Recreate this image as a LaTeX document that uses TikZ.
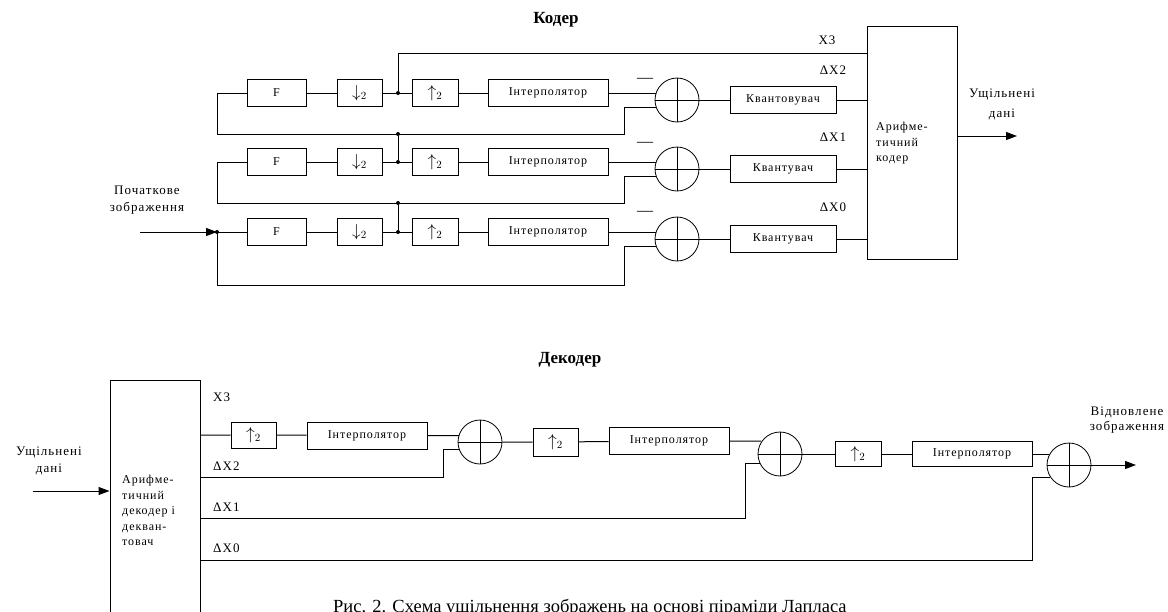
\documentclass[tikz,border=0pt]{standalone}
\usepackage{fontspec}
\setmainfont{Liberation Serif}
\newfontfamily\boxfont[LetterSpace=8]{Liberation Serif}
\usetikzlibrary{arrows.meta}

\begin{document}
\begin{tikzpicture}[x=1pt,y=-1pt,
  blk/.style={draw,line width=1pt,inner sep=0pt,minimum height=27pt,font=\boxfont\fontsize{12}{14}\selectfont},
  summer/.style={draw,circle,line width=0.8pt,minimum size=44pt,inner sep=0pt,
    path picture={\draw[line width=1pt] (path picture bounding box.north) -- (path picture bounding box.south)
      (path picture bounding box.west) -- (path picture bounding box.east);}},
  dot/.style={circle,fill,inner sep=0pt,minimum size=4pt},
  lbl/.style={font=\boxfont\fontsize{13}{17}\selectfont,align=center,inner sep=0pt},
  inner/.style={font=\boxfont\fontsize{12}{15.5}\selectfont,align=left,inner sep=0pt,anchor=north west},
  wire/.style={line width=1pt},
  arr/.style={wire,-{Triangle[length=11pt,width=8pt]}},
  title/.style={font=\bfseries\fontsize{17}{20}\selectfont}]
\useasboundingbox (0,0) rectangle (1168,611);

% coder
\node[title] (kod) at (556,20) {Кодер};
\node[blk,minimum width=90pt,minimum height=233pt] (ak) at (912,142.5) {};
\node[inner] (akt) at (876,122) {Арифме-\\тичний\\кодер};
\foreach \r/\y/\k/\q/\m/\d/\b in {0/93/2/Квантовувач/80/70/134,
    1/162/1/Квантувач/144/137/203, 2/232/0/Квантувач/213/207/285} {
  \node[blk,minimum width=59pt] (F\r) at (276.5,\y) {F};
  \node[blk,minimum width=45pt] (D\r) at (359.5,\y) {\fontsize{16}{16}\selectfont$\downarrow_2$};
  \node[dot] (J\r) at (398,\y) {};
  \node[blk,minimum width=46pt] (U\r) at (435,\y) {\fontsize{16}{16}\selectfont$\uparrow_2$};
  \node[blk,minimum width=120pt] (I\r) at (548,\y) {Інтерполятор};
  \node[summer] (S\r) at (677,{\y+7}) {};
  \node[blk,minimum width=106pt,minimum height=27pt] (Q\r) at (783,{\y+7}) {\q};
  \node[font=\fontsize{16}{16}\selectfont,inner sep=0pt] (m\r) at (645,\m) {—};
  \node[lbl] (dx\r) at (833,\d) {ΔX\k};
  \coordinate (L\r) at (217,\y);
  \coordinate (B\r) at (217,\b);
  \coordinate (T\r) at (624,\b);
  \draw[wire] (L\r) -- (F\r) (F\r) -- (D\r) (D\r) -- (U\r) (U\r) -- (I\r);
  \draw[wire] (I\r) -- (I\r -| S\r.161);
  \draw[wire] (L\r) -- (B\r) -- (T\r) |- (S\r.199);
  \draw[wire] (S\r) -- (Q\r);
  \draw[wire] (Q\r) -- (Q\r -| ak.west);
}
\node[dot] (K0) at (J0 |- B0) {};
\node[dot] (K1) at (J1 |- B1) {};
\draw[wire] (J1) -- (K0);
\draw[wire] (J2) -- (K1);
\coordinate (y3) at (0,53);
\draw[wire] (J0) |- (ak.west |- y3);
\node[lbl] (x3k) at (827,40) {X3};
% input and output
\coordinate (ink) at (140,232);
\draw[arr] (ink) -- (L2);
\node[dot] (L2d) at (L2) {};
\node[lbl] (inkt) at (147,200.5) {Початкове\\зображення};
\coordinate (outk) at (1017,136);
\draw[arr] (ak.east |- outk) -- (outk);
\node[lbl,font=\boxfont\fontsize{13}{20}\selectfont] (outkt) at (1002,104) {Ущільнені\\дані};

% decoder
\node[title] (dek) at (570,360) {Декодер};
\node[blk,minimum width=90pt,minimum height=260pt] (ad) at (155,510) {};
\node[inner] (adt) at (122,475) {Арифме-\\тичний\\декодер і\\декван-\\товач};
\coordinate (ind) at (33,491);
\draw[arr] (ind) -- (ind -| ad.west);
\node[lbl] (indt) at (49,461) {Ущільнені\\дані};
\node[blk,minimum width=45pt,minimum height=26pt] (UA) at (253.5,435) {\fontsize{16}{16}\selectfont$\uparrow_2$};
\node[blk,minimum width=120pt] (IA) at (367,435.5) {Інтерполятор};
\node[summer] (SA) at (480,442) {};
\node[blk,minimum width=45pt,minimum height=28pt] (UB) at (555.5,442) {\fontsize{16}{16}\selectfont$\uparrow_2$};
\node[blk,minimum width=120pt] (IB) at (669,441) {Інтерполятор};
\node[summer] (SB) at (780,454) {};
\node[blk,minimum width=46pt,minimum height=25pt] (UC) at (858,454) {\fontsize{16}{16}\selectfont$\uparrow_2$};
\node[blk,minimum width=120pt,minimum height=25pt] (IC) at (972,454) {Інтерполятор};
\node[summer] (SC) at (1069,465) {};
\draw[wire] (ad.east |- UA) -- (UA) (UA) -- (IA) (IA) -- (IA -| SA.160);
\draw[wire] (SA) -- (UB) (UB) -- (IB) (IB) -- (IB -| SB.147);
\draw[wire] (SB) -- (UC) (UC) -- (IC) (IC) -- (IC -| SC.153);
\coordinate (e2) at (443,477);
\coordinate (e1) at (745,518);
\coordinate (e0) at (1032,560);
\draw[wire] (ad.east |- e2) -- (e2) |- (SA.200);
\draw[wire] (ad.east |- e1) -- (e1) |- (SB.205);
\draw[wire] (ad.east |- e0) -- (e0) |- (SC.213);
\node[lbl,anchor=west] (x3d) at (213,397) {X3};
\node[lbl,anchor=west] (dx2d) at (213,466) {ΔX2};
\node[lbl,anchor=west] (dx1d) at (213,507) {ΔX1};
\node[lbl,anchor=west] (dx0d) at (213,548) {ΔX0};
\coordinate (outd) at (1136,465);
\draw[arr] (SC) -- (outd);
\node[lbl,font=\boxfont\fontsize{13}{15}\selectfont] (outdt) at (1127,420) {Відновлене\\зображення};

% caption
\node[font=\fontsize{18.5}{20}\selectfont,anchor=base west,inner sep=0pt] (cap) at (333,612)
  {Рис. 2. Схема ущільнення зображень на основі піраміди Лапласа};
\end{tikzpicture}
\end{document}
